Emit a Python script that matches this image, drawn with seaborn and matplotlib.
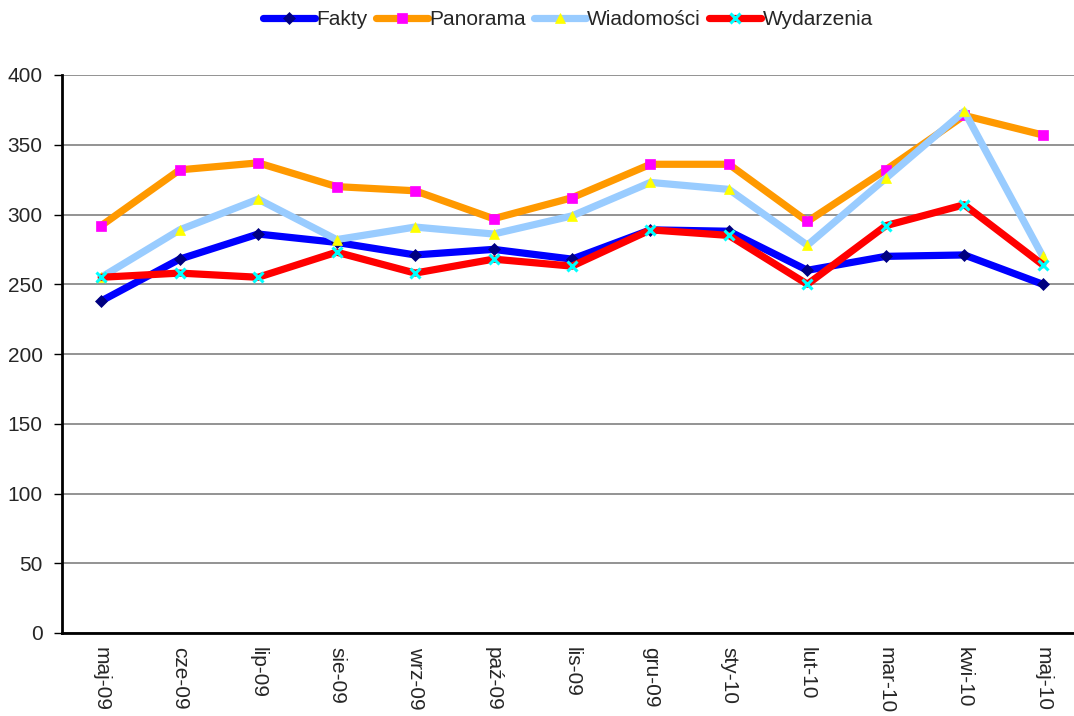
import matplotlib
matplotlib.use("Agg")
import matplotlib.pyplot as plt
import numpy as np
import pandas as pd
import seaborn as sns

months = ["maj-09", "cze-09", "lip-09", "sie-09", "wrz-09", "paź-09", "lis-09",
          "gru-09", "sty-10", "lut-10", "mar-10", "kwi-10", "maj-10"]
fakty = [238, 268, 286, 280, 271, 275, 268, 289, 288, 260, 270, 271, 250]
panorama = [292, 332, 337, 320, 317, 297, 312, 336, 336, 295, 332, 371, 357]
wiadomosci = [255, 289, 311, 282, 291, 286, 299, 323, 318, 278, 326, 374, 270]
wydarzenia = [255, 258, 255, 273, 258, 268, 263, 289, 285, 250, 292, 307, 264]

series = [
    ("Fakty", fakty, "#0000FF", "D", "#000080"),
    ("Panorama", panorama, "#FF9900", "s", "#FF00FF"),
    ("Wiadomości", wiadomosci, "#99CCFF", "^", "#FFFF00"),
    ("Wydarzenia", wydarzenia, "#FF0000", "x", "#00FFFF"),
]

sns.set_style("white")
plt.rcParams['font.family'] = ['Liberation Sans', 'DejaVu Sans']

fig = plt.figure(figsize=(10.74, 7.16), dpi=100)
ax = fig.add_axes([62 / 1074, 1 - 633 / 716, 1020 / 1074, 558 / 716])

x = np.arange(len(months))
for name, vals, col, mk, mcol in series:
    df = pd.DataFrame({"x": x, "y": vals})
    sns.lineplot(data=df, x="x", y="y", ax=ax, color=col, linewidth=5.2,
                 marker=mk, markersize=6.5, markerfacecolor=mcol,
                 markeredgecolor=mcol, markeredgewidth=2.2 if mk == "x" else 0.5,
                 label=name)

ax.set_xlim(-0.5, len(months) - 0.5)
ax.set_ylim(0, 400)
ax.set_yticks(np.arange(0, 401, 50))
ax.yaxis.grid(True, color="#808080", linewidth=1.2)
ax.set_axisbelow(True)
ax.set_xticks(x)
ax.set_xticklabels(months, rotation=270, fontsize=15)
ax.set_xticks(np.arange(-0.5, len(months), 1), minor=True)
ax.tick_params(axis="x", which="major", length=0, pad=10)
ax.tick_params(axis="x", which="minor", length=6, width=1, color="black", direction="out")
ax.tick_params(axis="y", length=6, width=1, color="black", direction="out", labelsize=15, left=True, pad=8)
ax.set_xlabel("")
ax.set_ylabel("")

for s in ["top", "right"]:
    ax.spines[s].set_visible(False)
for s in ["left", "bottom"]:
    ax.spines[s].set_color("black")
    ax.spines[s].set_linewidth(2)

ax.legend(loc="upper center", bbox_to_anchor=(568 / 1074, 1.0), bbox_transform=fig.transFigure,
          ncol=4, frameon=False, fontsize=15, handlelength=2.5, handletextpad=0.05,
          columnspacing=0.4, borderaxespad=0.1)

fig.savefig("out.png", dpi=100)
